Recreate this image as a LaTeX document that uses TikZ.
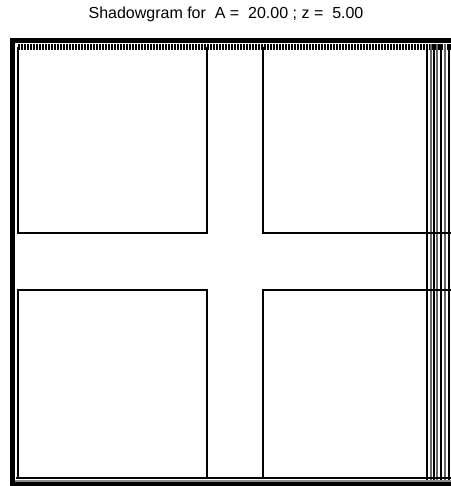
\documentclass[tikz,border=0pt]{standalone}
\usepackage{fontspec}
\setmainfont{Liberation Sans}
\begin{document}
\begin{tikzpicture}[x=1bp,y=-1bp,
  sq/.style={draw=black,line width=2bp},
  frame/.style={draw=black,line width=5.5bp},
  ticks/.style={draw=black,line width=6.5bp,dash pattern=on 1.6bp off 1.4bp},
  vline/.style={draw=black,line width=1.8bp},
  gline/.style={draw=black!60,line width=1.8bp},
  ttl/.style={font=\fontsize{16bp}{18bp}\selectfont,inner sep=0pt}]
\useasboundingbox (0,0) rectangle (451,486);
\node[ttl] (title) at (226,14) {Shadowgram for\ \ A =\ \ 20.00 ; z =\ \ 5.00};
% top tick band
\draw[ticks] (18,47) -- (451,47);
\draw[draw=black,line width=3bp,dash pattern=on 1.6bp off 1.4bp] (207,47.5) -- (263,47.5);
% right vertical lines
\foreach \x in {426.7,434,441.3,449.3} \draw[vline] (\x,44) -- (\x,484);
\foreach \x in {430.7,437.3,445.3} \draw[gline] (\x,44) -- (\x,484);
% squares
\draw[sq] (18,47) -- (18,233) -- (207,233) -- (207,47);
\draw[sq] (263,47) -- (263,233) -- (451,233);
\draw[sq] (18,478) -- (18,290) -- (207,290) -- (207,478);
\draw[sq] (263,478) -- (263,290) -- (451,290);
\draw[sq] (16,478) -- (451,478);
\draw[draw=black!45,line width=1.3bp] (15,481) -- (451,481);
% frame
\draw[frame] (12.3,486) -- (12.3,40.5) -- (451,40.5);
\draw[draw=black,line width=3.2bp] (12,484) -- (451,484);
\end{tikzpicture}
\end{document}
